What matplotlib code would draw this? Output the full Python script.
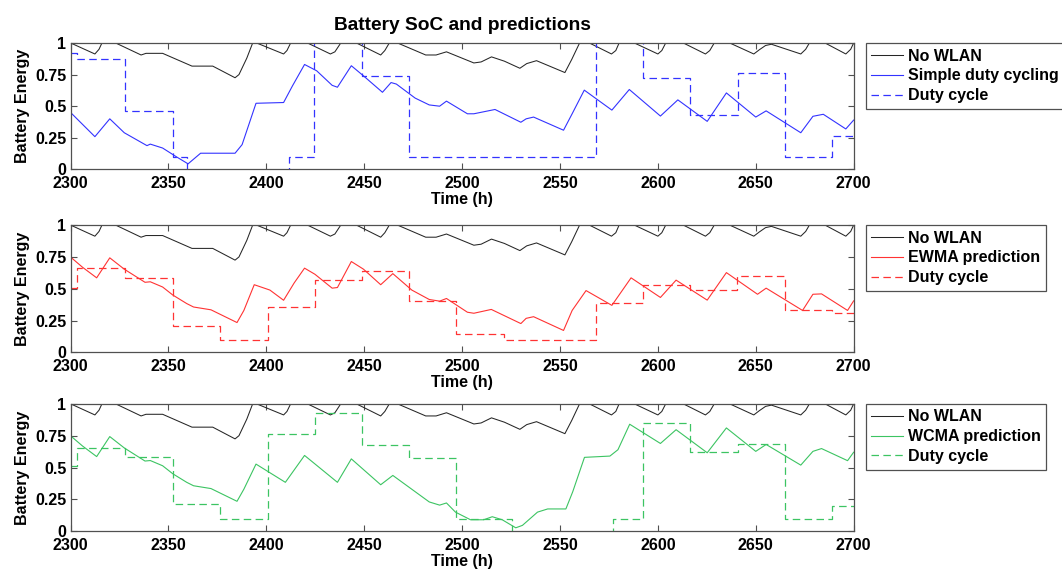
"""
Battery state of charge for three duty cycling schemes, plotted over hours 2300-2700.
"""

import matplotlib
matplotlib.use('Agg')  # Use non-interactive backend
import matplotlib.pyplot as plt

plt.rcParams['font.family'] = ['Liberation Sans', 'DejaVu Sans']
plt.rcParams['font.weight'] = 'bold'
plt.rcParams['font.size'] = 11.5

# Battery without WLAN (same in every panel)
nowlan_t = [2300, 2312.4, 2314.5, 2316, 2323, 2336, 2338.5, 2347, 2362, 2372.6,
            2384, 2386, 2390, 2393, 2395, 2408.8, 2410.5, 2412.4, 2421, 2432.7,
            2435, 2438, 2446, 2458.4, 2460.5, 2462.8, 2467, 2481.4, 2486.7, 2492,
            2506, 2509.7, 2515, 2521.6, 2529.5, 2533, 2538, 2552.5, 2556, 2560,
            2565, 2576.3, 2578.5, 2580.2, 2588, 2600, 2602, 2604, 2613, 2624.3,
            2626.5, 2628.8, 2636.7, 2649, 2651.8, 2655, 2658, 2673, 2675.5, 2677.4,
            2685.4, 2696, 2698.5, 2700]
nowlan_soc = [1.0, 0.913, 0.95, 1.0, 1.0, 0.905, 0.918, 0.918, 0.817, 0.817,
              0.725, 0.75, 0.88, 1.0, 1.0, 0.913, 0.94, 1.0, 1.0, 0.913,
              0.93, 1.0, 1.0, 0.905, 0.94, 1.0, 1.0, 0.905, 0.905, 0.93,
              0.842, 0.85, 0.89, 0.856, 0.80, 0.837, 0.86, 0.766, 0.87, 1.0,
              1.0, 0.913, 0.94, 1.0, 1.0, 0.913, 0.94, 1.0, 1.0, 0.913,
              0.94, 1.0, 1.0, 0.913, 0.946, 0.98, 0.99, 0.913, 0.95, 1.0,
              1.0, 0.913, 0.95, 1.0]

# Simple duty cycling
simple_t = [2300, 2312.4, 2320, 2327.4, 2339, 2340.7, 2347, 2354, 2360, 2366.4,
            2384, 2387.6, 2394.7, 2408.8, 2413.3, 2419.5, 2425.7, 2433.6, 2436.3, 2443.4,
            2449.6, 2459.3, 2463.7, 2466.4, 2476, 2483.2, 2488.5, 2492, 2502.7, 2506,
            2516.8, 2530, 2532.7, 2536.5, 2551.8, 2556.2, 2562.4, 2576.5, 2585.4, 2601.3,
            2610.2, 2625.2, 2635, 2650, 2655.3, 2673, 2679.2, 2684.5, 2696, 2700]
simple_soc = [0.45, 0.259, 0.40, 0.29, 0.188, 0.20, 0.169, 0.10, 0.044, 0.128,
              0.128, 0.196, 0.523, 0.529, 0.66, 0.83, 0.78, 0.665, 0.65, 0.82,
              0.74, 0.61, 0.687, 0.675, 0.564, 0.51, 0.50, 0.54, 0.44, 0.44,
              0.474, 0.373, 0.40, 0.414, 0.31, 0.44, 0.627, 0.469, 0.632, 0.422,
              0.55, 0.38, 0.605, 0.414, 0.463, 0.29, 0.42, 0.436, 0.32, 0.39]
simple_duty_t = [2300, 2303.5, 2327.8, 2352.2, 2359.5, 2411.5, 2424.4, 2448.8, 2473,
                 2568.2, 2592.5, 2616.4, 2640.8, 2665, 2689, 2700]
simple_duty = [0.92, 0.87, 0.46, 0.10, -0.2, 0.10, 1.2, 0.74, 0.10,
               1.2, 0.72, 0.43, 0.76, 0.10, 0.265, 0.265]

# EWMA prediction
ewma_t = [2300, 2306, 2313.3, 2320, 2327.4, 2338, 2340.7, 2347, 2352.2, 2359.3,
          2362.8, 2371.7, 2385, 2388.5, 2393.8, 2401.8, 2408.8, 2414.2, 2419.5, 2424.8,
          2433.6, 2436.3, 2443.4, 2449.6, 2458.4, 2464.6, 2474.3, 2483.2, 2488.5, 2492,
          2502.7, 2506, 2514.9, 2530, 2532.7, 2536.5, 2551.8, 2556.2, 2563.3, 2576.5,
          2586.3, 2601.3, 2609.3, 2625.2, 2635, 2650.9, 2655.3, 2673.9, 2679.2, 2683.6,
          2696.9, 2700]
ewma_soc = [0.749, 0.67, 0.586, 0.743, 0.654, 0.551, 0.555, 0.514, 0.451, 0.384,
            0.357, 0.335, 0.235, 0.33, 0.532, 0.49, 0.41, 0.546, 0.662, 0.614,
            0.505, 0.51, 0.714, 0.654, 0.532, 0.619, 0.49, 0.416, 0.403, 0.424,
            0.316, 0.308, 0.338, 0.227, 0.268, 0.281, 0.173, 0.33, 0.486, 0.37,
            0.586, 0.432, 0.568, 0.411, 0.627, 0.457, 0.505, 0.33, 0.457, 0.46,
            0.33, 0.405]
ewma_duty_t = [2300, 2303.5, 2327.8, 2352.2, 2376.3, 2400.6, 2424.6, 2448.8, 2473,
               2497, 2521.2, 2568.2, 2592.5, 2616.4, 2640.6, 2664.8, 2688.9, 2700]
ewma_duty = [0.51, 0.66, 0.585, 0.21, 0.10, 0.357, 0.567, 0.64, 0.403,
             0.145, 0.10, 0.385, 0.527, 0.487, 0.598, 0.335, 0.31, 0.31]

# WCMA prediction
wcma_t = [2300, 2306, 2313.3, 2320, 2327.4, 2338, 2340.7, 2347, 2352.2, 2359.3,
          2362.8, 2371.7, 2385, 2388.5, 2394.7, 2409.7, 2419.5, 2436.3, 2443.4, 2458.4,
          2464.6, 2483.2, 2488.5, 2492, 2496.6, 2504.3, 2511, 2515.4, 2520.5, 2527.4,
          2530.8, 2538.5, 2543.7, 2553, 2556.5, 2562.5, 2575.5, 2579.6, 2585.6, 2601.3,
          2609.3, 2625.2, 2635, 2650, 2655.3, 2673, 2679.2, 2683.6, 2696.9, 2700]
wcma_soc = [0.749, 0.67, 0.586, 0.743, 0.654, 0.551, 0.555, 0.514, 0.451, 0.384,
            0.357, 0.335, 0.235, 0.33, 0.527, 0.384, 0.595, 0.384, 0.568, 0.365,
            0.438, 0.23, 0.205, 0.222, 0.15, 0.09, 0.09, 0.114, 0.09, 0.027,
            0.046, 0.15, 0.175, 0.175, 0.31, 0.58, 0.59, 0.64, 0.84, 0.689,
            0.797, 0.616, 0.811, 0.627, 0.681, 0.519, 0.627, 0.649, 0.554, 0.62]
wcma_duty_t = [2300, 2303.5, 2327.8, 2352.2, 2376.3, 2400.6, 2424.6, 2448.8, 2473,
               2497, 2525.5, 2577, 2592.5, 2616.4, 2640.8, 2665, 2689, 2700]
wcma_duty = [0.514, 0.657, 0.581, 0.211, 0.10, 0.762, 0.932, 0.676, 0.576,
             0.095, -0.2, 0.10, 0.851, 0.622, 0.681, 0.10, 0.195, 0.195]

x_ticks = [2300, 2350, 2400, 2450, 2500, 2550, 2600, 2650, 2700]
y_ticks = [0, 0.25, 0.5, 0.75, 1]
y_tick_labels = ['0', '0.25', '0.5', '0.75', '1']

panels = [
    ('Simple duty cycling', simple_t, simple_soc, simple_duty_t, simple_duty, '#3333ff'),
    ('EWMA prediction', ewma_t, ewma_soc, ewma_duty_t, ewma_duty, '#ff3333'),
    ('WCMA prediction', wcma_t, wcma_soc, wcma_duty_t, wcma_duty, '#3cc462'),
]

frame_color = '#505050'

# Create figure with three stacked panels
fig = plt.figure(figsize=(10.62, 5.70), dpi=100)
axes_boxes = [
    [0.0665, 0.7028, 0.7373, 0.2218],
    [0.0665, 0.3816, 0.7373, 0.2235],
    [0.0665, 0.0680, 0.7373, 0.2235],
]

for box, (name, t, soc, dt, duty, color) in zip(axes_boxes, panels):
    ax = fig.add_axes(box)

    ax.plot(nowlan_t, nowlan_soc, color='#262626', linewidth=0.75, label='No WLAN')
    ax.plot(t, soc, color=color, linewidth=0.8, label=name)
    ax.step(dt, duty, where='post', color=color, linewidth=0.9,
            linestyle=(0, (6, 3.5)), label='Duty cycle')

    # Axis limits and ticks
    ax.set_xlim(2300, 2700)
    ax.set_ylim(0, 1)
    ax.set_xticks(x_ticks)
    ax.set_yticks(y_ticks)
    ax.set_yticklabels(y_tick_labels)
    ax.tick_params(direction='in', top=True, right=True, length=4,
                   color=frame_color)
    ax.tick_params(axis='x', pad=5)
    ax.tick_params(axis='y', pad=3)
    for spine in ax.spines.values():
        spine.set_color(frame_color)
        spine.set_linewidth(0.9)

    ax.set_xlabel('Time (h)', fontweight='bold', labelpad=0.5)
    ax.set_ylabel('Battery Energy', fontweight='bold', labelpad=4)

    # Legend outside on the right
    leg = ax.legend(loc='upper left', bbox_to_anchor=(1.0153, 1.0),
                    borderaxespad=0, fancybox=False, framealpha=1,
                    edgecolor=frame_color, borderpad=0.35, handlelength=2.0,
                    handletextpad=0.3, labelspacing=0.3)
    leg.get_frame().set_linewidth(0.9)

    if name == 'Simple duty cycling':
        ax.set_title('Battery SoC and predictions', fontweight='bold', pad=9)

fig.savefig('out.png', dpi=100)
plt.close(fig)
